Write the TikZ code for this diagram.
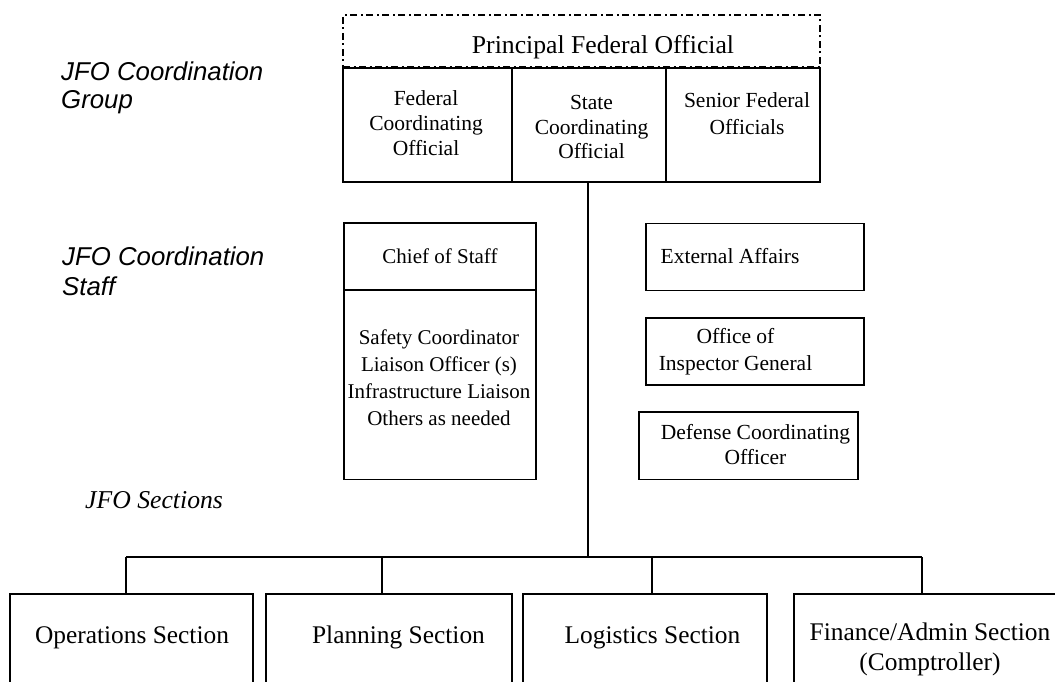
\documentclass[tikz,border=0pt]{standalone}
\usepackage{fontspec}
\setmainfont{Liberation Serif}
\setsansfont{Liberation Sans}
\usetikzlibrary{positioning}

\tikzset{
    box/.style={draw, line width=1.8pt, inner sep=0pt},
    pfobox/.style={draw, line width=1.6pt, inner sep=0pt, dash pattern=on 7pt off 3.5pt on 2pt off 3.5pt},
    link/.style={line width=1.8pt},
    rowtext/.style={font=\fontsize{21.5}{25}\selectfont, align=center, inner sep=0pt},
    stafftext/.style={font=\fontsize{21}{26.8}\selectfont, align=center, inner sep=0pt},
    secttext/.style={font=\fontsize{25.4}{30}\selectfont, align=center, inner sep=0pt},
    grouplabel/.style={font=\sffamily\itshape\fontsize{25.8}{28}\selectfont, align=left, inner sep=0pt, anchor=north west}
}

\begin{document}
\begin{tikzpicture}[x=1pt, y=-1pt]
    \useasboundingbox (0,0) rectangle (1055,682);
    \clip (0,0) rectangle (1055,682);

    % Coordination group
    \node[pfobox, minimum width=477, minimum height=52] (pfo) at (581.5,41) {};
    \node[font=\fontsize{25.7}{30}\selectfont, inner sep=0pt, anchor=base] (pfotext) at (603,54) {Principal Federal Official};

    \node[box, minimum width=169, minimum height=114] (fco) at (427.5,125) {};
    \node[box, minimum width=154, minimum height=114] (sco) at (589,125) {};
    \node[box, minimum width=154, minimum height=114] (sfo) at (743,125) {};
    \node[rowtext, anchor=north] (fcotext) at (426,90.3) {Federal\\Coordinating\\Official};
    \node[rowtext, font=\fontsize{21.5}{24.5}\selectfont, anchor=north] (scotext) at (591.5,95.5) {State\\Coordinating\\Official};
    \node[rowtext, font=\fontsize{21.5}{27}\selectfont, anchor=north] (sfotext) at (747,92.3) {Senior Federal\\Officials};

    % Coordination staff
    \node[box, minimum width=192, minimum height=67] (chief) at (440,256.5) {};
    \node[box, minimum width=192, minimum height=189.5] (staff) at (440,384.75) {};
    \node[stafftext, anchor=base] (chieftext) at (440,263) {Chief of Staff};
    \node[stafftext, anchor=north] (stafftext) at (439,329.7) {Safety Coordinator\\Liaison Officer (s)\\Infrastructure Liaison\\Others as needed};

    \node[box, minimum width=218, minimum height=67] (ext) at (755,257) {};
    \node[box, minimum width=218, minimum height=67] (oig) at (755,351.5) {};
    \node[box, minimum width=219, minimum height=67.5] (dco) at (748.5,445.75) {};
    \node[rowtext, anchor=base] (exttext) at (730,263) {External Affairs};
    \node[rowtext, font=\fontsize{21.5}{27}\selectfont, anchor=north] (oigtext) at (735.5,328.3) {Office of\\Inspector General};
    \node[rowtext, font=\fontsize{21.5}{25.5}\selectfont, anchor=north] (dcotext) at (755.5,423.8) {Defense Coordinating\\Officer};

    % Sections
    \node[box, minimum width=243, minimum height=126] (ops) at (131.5,657) {};
    \node[box, minimum width=246, minimum height=126] (plan) at (389,657) {};
    \node[box, minimum width=244, minimum height=126] (log) at (645,657) {};
    \node[box, minimum width=276, minimum height=126] (fin) at (932,657) {};
    \node[secttext, anchor=base] (opstext) at (132,643) {Operations Section};
    \node[secttext, anchor=base] (plantext) at (398.5,643) {Planning Section};
    \node[secttext, anchor=base] (logtext) at (652.5,643) {Logistics Section};
    \node[secttext, anchor=north] (fintext) at (930,622.7) {Finance/Admin Section\\(Comptroller)};

    % Side labels
    \node[grouplabel] (grouplbl) at (61,61.2) {JFO Coordination\\Group};
    \node[grouplabel, font=\sffamily\itshape\fontsize{25.8}{30}\selectfont] (stafflbl) at (62,246.2) {JFO Coordination\\Staff};
    \node[font=\itshape\fontsize{25.7}{30}\selectfont, inner sep=0pt, anchor=base west] (sectlbl) at (85,508) {JFO Sections};

    % Connectors
    \coordinate (barL) at (126,557);
    \coordinate (barR) at (922,557);
    \coordinate (tickP) at (382,557);
    \coordinate (tickL) at (652,557);
    \draw[link] (588,182) coordinate (trunk) -- (trunk |- barL);
    \draw[link] (barL) -- (barR);
    \draw[link] (barL) -- (barL |- ops.north);
    \draw[link] (tickP) -- (tickP |- plan.north);
    \draw[link] (tickL) -- (tickL |- log.north);
    \draw[link] (barR) -- (barR |- fin.north);
\end{tikzpicture}
\end{document}
